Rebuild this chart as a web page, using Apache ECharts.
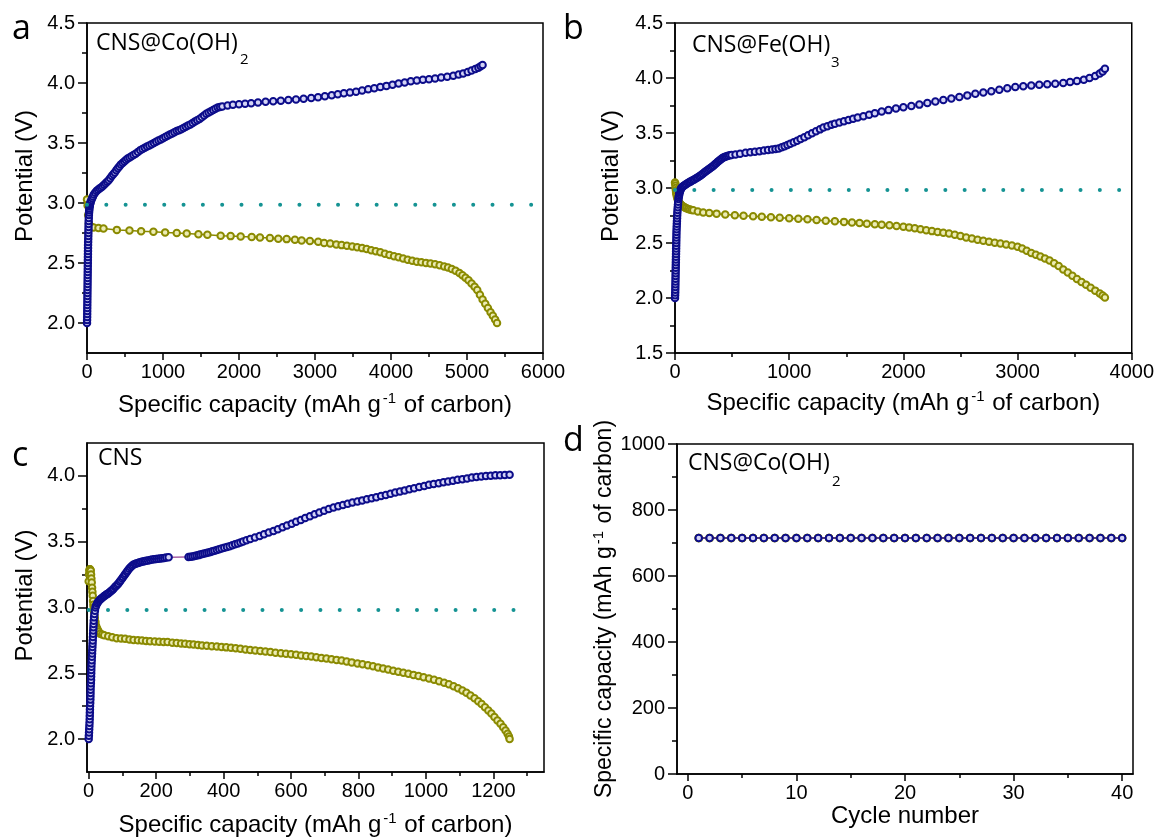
<!DOCTYPE html>
<html><head><meta charset="utf-8">
<script src="https://cdn.jsdelivr.net/npm/echarts@6/dist/echarts.min.js"></script>
<style>html,body{margin:0;padding:0;background:#fff}#c{width:1157px;height:839px}</style>
</head><body><div id="c"></div>
<script>
// ---------- DATA (capacity mAh/g, potential V) ----------
const aCharge = [[0,2.0],[1,2.025],[2,2.05],[2.5,2.075],[3,2.1],[3.5,2.125],[4,2.15],[4.5,2.175],[5,2.2],[5.5,2.225],[6,2.25],[6.5,2.275],[7,2.3],[7.5,2.325],[8,2.35],[8.5,2.375],[9,2.4],[9.5,2.425],[10,2.45],[10.5,2.475],[11,2.5],[11.5,2.525],[12,2.55],[12.5,2.575],[13,2.6],[13.5,2.625],[14,2.65],[15,2.675],[16,2.7],[17,2.725],[18,2.75],[19,2.775],[20,2.8],[21,2.825],[22,2.85],[23.5,2.875],[25,2.9],[27,2.92],[29,2.94],[31.5,2.955],[34,2.97],[37,2.98],[40,2.99],[44,3.0],[48,3.01],[57,3.025],[67,3.04],[78,3.055],[90,3.07],[107,3.085],[125,3.1],[145,3.11],[165,3.12],[185,3.13],[205,3.14],[225,3.152],[245,3.165],[265,3.178],[285,3.19],[305,3.207],[325,3.225],[345,3.24],[365,3.255],[385,3.272],[405,3.29],[425,3.305],[445,3.32],[468,3.333],[490,3.345],[512,3.358],[535,3.37],[560,3.38],[585,3.39],[612,3.4],[640,3.41],[670,3.425],[700,3.44],[730,3.45],[760,3.46],[790,3.47],[820,3.48],[850,3.49],[880,3.5],[910,3.51],[940,3.52],[970,3.53],[1000,3.54],[1030,3.55],[1060,3.56],[1090,3.57],[1120,3.58],[1150,3.59],[1180,3.6],[1210,3.607],[1240,3.615],[1270,3.625],[1300,3.635],[1330,3.645],[1360,3.655],[1390,3.667],[1420,3.68],[1450,3.69],[1480,3.7],[1510,3.715],[1540,3.73],[1570,3.743],[1600,3.755],[1630,3.765],[1660,3.775],[1690,3.785],[1720,3.795],[1750,3.8],[1780,3.805],[1850,3.812],[1920,3.818],[2000,3.822],[2080,3.827],[2160,3.832],[2250,3.838],[2350,3.843],[2450,3.848],[2550,3.853],[2650,3.858],[2750,3.863],[2850,3.869],[2950,3.875],[3040,3.882],[3130,3.89],[3220,3.898],[3300,3.906],[3380,3.914],[3460,3.921],[3540,3.928],[3620,3.937],[3700,3.947],[3780,3.956],[3860,3.966],[3940,3.976],[4020,3.986],[4100,3.996],[4180,4.005],[4260,4.014],[4340,4.021],[4420,4.027],[4500,4.032],[4580,4.038],[4660,4.045],[4740,4.052],[4820,4.06],[4890,4.07],[4950,4.08],[5010,4.092],[5060,4.104],[5110,4.116],[5150,4.128],[5180,4.139],[5205,4.15]];
const aDischarge = [[0,3.03],[8,2.98],[15,2.9],[25,2.83],[40,2.805],[60,2.8],[86,2.795],[151,2.792],[217,2.787],[393,2.776],[559,2.77],[712,2.764],[874,2.76],[1028,2.755],[1181,2.75],[1312,2.745],[1466,2.74],[1584,2.735],[1759,2.728],[1890,2.724],[2022,2.72],[2167,2.716],[2276,2.712],[2407,2.708],[2517,2.703],[2627,2.699],[2736,2.693],[2824,2.688],[2933,2.683],[3042,2.677],[3120,2.667],[3200,2.662],[3280,2.655],[3350,2.649],[3420,2.643],[3490,2.637],[3555,2.631],[3620,2.624],[3680,2.616],[3740,2.607],[3800,2.598],[3860,2.589],[3920,2.578],[3980,2.567],[4040,2.556],[4100,2.547],[4160,2.538],[4220,2.528],[4280,2.519],[4340,2.511],[4400,2.506],[4460,2.501],[4520,2.496],[4580,2.489],[4640,2.481],[4700,2.471],[4750,2.462],[4800,2.45],[4850,2.435],[4900,2.416],[4940,2.398],[4980,2.378],[5020,2.356],[5060,2.33],[5100,2.302],[5135,2.275],[5170,2.236],[5205,2.196],[5240,2.16],[5275,2.125],[5310,2.09],[5340,2.06],[5370,2.03],[5395,2.0]];
const aRef = [[0,2.985],[5850,2.985]];

const bCharge = [[0,2.0],[1,2.025],[2,2.05],[2.5,2.075],[3,2.1],[3.5,2.125],[4,2.15],[4.5,2.175],[5,2.2],[5.5,2.225],[6,2.25],[6.5,2.275],[7,2.3],[7.5,2.325],[8,2.35],[8.5,2.375],[9,2.4],[9.5,2.425],[10,2.45],[10.5,2.475],[11,2.5],[11.5,2.525],[12,2.55],[12.5,2.575],[13,2.6],[14,2.625],[15,2.65],[16,2.675],[17,2.7],[18,2.725],[19,2.75],[20.5,2.775],[22,2.8],[24,2.825],[26,2.85],[28,2.875],[30,2.9],[32.5,2.915],[35,2.93],[37.5,2.945],[40,2.96],[43.5,2.97],[47,2.98],[51,2.99],[55,3.0],[63,3.008],[71,3.015],[80,3.022],[90,3.03],[100,3.037],[112,3.045],[124,3.052],[135,3.058],[147,3.065],[160,3.072],[172,3.08],[185,3.088],[197,3.096],[210,3.105],[221,3.112],[232,3.12],[244,3.13],[256,3.14],[268,3.15],[280,3.16],[292,3.169],[304,3.178],[316,3.187],[328,3.195],[339,3.205],[350,3.215],[361,3.226],[372,3.237],[383,3.246],[394,3.255],[405,3.264],[416,3.272],[428,3.279],[440,3.284],[452,3.289],[465,3.293],[480,3.297],[495,3.3],[530,3.305],[570,3.312],[618,3.32],[660,3.325],[700,3.33],[740,3.335],[779,3.34],[815,3.345],[850,3.35],[880,3.355],[908,3.36],[935,3.37],[960,3.38],[985,3.39],[1010,3.402],[1040,3.415],[1070,3.43],[1100,3.445],[1133,3.462],[1166,3.48],[1200,3.497],[1235,3.515],[1270,3.533],[1300,3.55],[1335,3.562],[1370,3.575],[1400,3.585],[1440,3.595],[1480,3.607],[1520,3.618],[1560,3.63],[1600,3.64],[1650,3.652],[1700,3.665],[1750,3.68],[1810,3.695],[1870,3.708],[1935,3.722],[2000,3.735],[2070,3.746],[2140,3.758],[2210,3.772],[2280,3.786],[2350,3.8],[2420,3.814],[2490,3.828],[2560,3.842],[2630,3.856],[2700,3.868],[2770,3.88],[2840,3.893],[2910,3.906],[2980,3.918],[3050,3.926],[3120,3.932],[3190,3.938],[3260,3.943],[3330,3.948],[3400,3.955],[3460,3.963],[3520,3.973],[3580,3.985],[3630,4.0],[3680,4.018],[3720,4.04],[3745,4.06],[3765,4.085]];
const bDischarge = [[0,3.05],[2,3.04],[4,3.02],[6,3.0],[8,2.98],[10,2.96],[12,2.95],[15,2.93],[20,2.91],[25,2.895],[30,2.88],[36,2.87],[42,2.86],[50,2.85],[58,2.843],[69,2.835],[80,2.828],[90,2.821],[100,2.815],[115,2.81],[130,2.805],[145,2.8],[160,2.797],[200,2.787],[247,2.777],[300,2.772],[364,2.767],[440,2.76],[524,2.752],[600,2.747],[684,2.743],[760,2.739],[840,2.735],[917,2.73],[1000,2.726],[1080,2.72],[1160,2.715],[1240,2.709],[1320,2.703],[1400,2.697],[1480,2.692],[1550,2.687],[1616,2.682],[1680,2.676],[1750,2.671],[1810,2.666],[1878,2.661],[1940,2.655],[2000,2.648],[2050,2.642],[2100,2.634],[2150,2.625],[2200,2.616],[2250,2.608],[2300,2.6],[2350,2.594],[2400,2.586],[2450,2.575],[2500,2.563],[2550,2.551],[2600,2.541],[2650,2.53],[2700,2.52],[2750,2.511],[2800,2.502],[2850,2.495],[2900,2.487],[2950,2.478],[3000,2.466],[3040,2.449],[3080,2.43],[3120,2.41],[3160,2.393],[3200,2.377],[3240,2.36],[3280,2.34],[3320,2.316],[3360,2.29],[3400,2.26],[3440,2.232],[3480,2.203],[3520,2.173],[3560,2.146],[3600,2.12],[3640,2.094],[3680,2.067],[3720,2.04],[3745,2.022],[3765,2.005]];
const bRef = [[0,2.982],[3890,2.982]];

const cCharge = [[0,2.0],[0.5,2.025],[1,2.05],[1.5,2.075],[2,2.1],[2.5,2.125],[3,2.15],[3.2,2.175],[3.5,2.2],[3.7,2.225],[4,2.25],[4.5,2.275],[5,2.3],[5.2,2.325],[5.5,2.35],[5.7,2.375],[6,2.4],[6.5,2.425],[7,2.45],[7.2,2.475],[7.5,2.5],[7.7,2.525],[8,2.55],[8.5,2.575],[9,2.6],[9.5,2.625],[10,2.65],[10.5,2.675],[11,2.7],[11.5,2.725],[12,2.75],[12.5,2.775],[13,2.8],[13.5,2.825],[14,2.85],[14.5,2.875],[15,2.9],[16,2.925],[17,2.95],[18.5,2.975],[20,3.0],[22,3.015],[25,3.03],[27,3.04],[30,3.05],[33,3.058],[36,3.065],[39,3.072],[43,3.08],[46,3.087],[50,3.093],[53,3.1],[57,3.105],[60,3.112],[64,3.12],[67,3.127],[71,3.135],[74,3.145],[78,3.155],[81,3.163],[85,3.172],[88,3.183],[92,3.195],[95,3.207],[99,3.22],[102,3.232],[106,3.245],[109,3.257],[113,3.27],[116,3.282],[120,3.295],[124,3.306],[128,3.316],[132,3.324],[137,3.33],[141,3.334],[146,3.338],[150,3.342],[155,3.345],[160,3.349],[165,3.352],[170,3.355],[176,3.358],[182,3.361],[188,3.364],[194,3.366],[200,3.368],[206,3.371],[212,3.373],[218,3.375],[224,3.377],[230,3.38],[237,3.382],[296,3.384],[302,3.386],[308,3.388],[314,3.391],[320,3.395],[326,3.398],[331,3.402],[337,3.406],[343,3.41],[349,3.414],[355,3.418],[361,3.422],[367,3.427],[373,3.432],[380,3.437],[387,3.442],[394,3.448],[402,3.454],[410,3.46],[418,3.466],[426,3.473],[434,3.48],[442,3.487],[450,3.494],[458,3.502],[468,3.511],[479,3.52],[493,3.532],[507,3.544],[520,3.556],[534,3.569],[548,3.582],[561,3.595],[575,3.609],[588,3.623],[602,3.637],[615,3.651],[629,3.665],[642,3.68],[656,3.694],[670,3.708],[684,3.722],[698,3.735],[712,3.748],[726,3.759],[740,3.77],[754,3.779],[768,3.789],[782,3.798],[797,3.806],[811,3.814],[825,3.822],[839,3.83],[853,3.838],[867,3.847],[881,3.855],[895,3.864],[909,3.873],[923,3.881],[937,3.89],[951,3.898],[965,3.907],[980,3.916],[995,3.924],[1009,3.932],[1023,3.938],[1038,3.945],[1052,3.952],[1066,3.958],[1080,3.964],[1094,3.97],[1108,3.975],[1122,3.981],[1136,3.987],[1150,3.992],[1164,3.996],[1178,3.999],[1192,4.002],[1206,4.004],[1220,4.005],[1234,4.007],[1248,4.008]];
const cDischarge = [[0,3.2],[1,3.25],[2,3.28],[3,3.29],[4,3.29],[5,3.285],[6,3.28],[7,3.25],[8,3.22],[9,3.19],[10,3.15],[11,3.12],[12,3.09],[13,3.05],[14,3.02],[15,3.0],[16,2.97],[17,2.94],[18,2.92],[20,2.89],[22,2.86],[24,2.845],[27,2.83],[30,2.815],[34,2.8],[40,2.795],[46,2.79],[58,2.782],[70,2.774],[83,2.767],[96,2.764],[108,2.762],[121,2.757],[133,2.753],[146,2.751],[158,2.749],[170,2.746],[182,2.744],[196,2.741],[209,2.739],[222,2.738],[234,2.737],[248,2.733],[261,2.73],[274,2.727],[286,2.725],[299,2.72],[311,2.718],[324,2.715],[336,2.712],[350,2.709],[365,2.706],[380,2.703],[394,2.7],[408,2.697],[422,2.694],[436,2.69],[450,2.686],[465,2.681],[479,2.677],[494,2.673],[509,2.669],[524,2.665],[539,2.661],[554,2.656],[570,2.652],[585,2.649],[600,2.645],[615,2.641],[630,2.636],[645,2.632],[660,2.627],[675,2.622],[690,2.617],[705,2.612],[720,2.607],[735,2.602],[750,2.597],[765,2.59],[780,2.583],[797,2.574],[812,2.568],[828,2.561],[843,2.553],[858,2.545],[873,2.537],[888,2.529],[903,2.52],[918,2.512],[933,2.505],[948,2.496],[963,2.488],[978,2.479],[993,2.47],[1009,2.46],[1024,2.451],[1039,2.44],[1054,2.429],[1068,2.417],[1082,2.402],[1095,2.386],[1108,2.37],[1120,2.352],[1132,2.332],[1144,2.31],[1155,2.288],[1165,2.266],[1175,2.242],[1185,2.218],[1194,2.194],[1203,2.168],[1212,2.142],[1221,2.116],[1229,2.09],[1236,2.065],[1242,2.04],[1246,2.02],[1248,2.0]];
const cRef = [[0,2.981],[1312,2.981]];

const dCycles = [1,2,3,4,5,6,7,8,9,10,11,12,13,14,15,16,17,18,19,20,21,22,23,24,25,26,27,28,29,30,31,32,33,34,35,36,37,38,39,40];
const dCharge = [715,715,715,715,715,715,715,715,715,715,715,715,715,715,715,715,715,715,715,715,715,715,715,715,715,715,715,715,715,715,715,715,715,715,715,715,715,715,715,715];
const dDischarge = [715,715,715,715,715,715,715,715,715,715,715,715,715,715,715,715,715,715,715,715,715,715,715,715,715,715,715,715,715,715,715,715,715,715,715,715,715,715,715,715];

// tick values
const aXMajor = [0,1000,2000,3000,4000,5000,6000], aXMinor = [500,1500,2500,3500,4500,5500];
const aYMajor = [2.0,2.5,3.0,3.5,4.0,4.5], aYMinor = [2.25,2.75,3.25,3.75,4.25];
const bXMajor = [0,1000,2000,3000,4000], bXMinor = [500,1500,2500,3500];
const bYMajor = [1.5,2.0,2.5,3.0,3.5,4.0,4.5], bYMinor = [1.75,2.25,2.75,3.25,3.75,4.25];
const cXMajor = [0,200,400,600,800,1000,1200], cXMinor = [100,300,500,700,900,1100,1300];
const cYMajor = [2.0,2.5,3.0,3.5,4.0], cYMinor = [2.25,2.75,3.25,3.75];
const dXMajor = [0,10,20,30,40], dXMinor = [5,15,25,35];
const dYMajor = [0,200,400,600,800,1000], dYMinor = [100,300,500,700,900];

// ---------- STYLE ----------
const NAVY = '#0c0c8a', OLIVE = '#8a8a00', TEAL = '#159393';
const SANS = '"Liberation Sans", Arial, sans-serif';
const CAL = '"Open Sans", "Noto Sans", sans-serif';
const capName = '{t|Specific capacity (mAh g}{s|-1}{t| of carbon)}';
function nameRich(sz){ return {t:{fontSize:sz,fontFamily:SANS,color:'#000'}, s:{fontSize:15,fontFamily:SANS,color:'#000',padding:[0,1,13,2]}}; }

function mainAxis(dim, grid, min, max, majors, fmt, name, gap, pad, sz){
  const isX = dim === 'x';
  sz = sz || 24;
  return {
    type:'value', gridIndex:grid, min:min, max:max, position: isX ? 'bottom' : 'left',
    axisLine:{show:true,onZero:false,lineStyle:{color:'#000',width:1.5}},
    axisTick:{show:true,inside:false,length:isX?7:9,lineStyle:{color:'#000',width:1.5},customValues:majors},
    axisLabel:{customValues:majors,formatter:fmt,fontSize:20,fontFamily:SANS,color:'#000',margin:isX?9:12},
    splitLine:{show:false}, minorTick:{show:false},
    name:name, nameLocation:'middle', nameGap:gap,
    nameTextStyle:{fontSize:sz,fontFamily:SANS,color:'#000',rich:nameRich(sz),padding:pad||0}
  };
}
function minorAxis(dim, grid, min, max, minors){
  const isX = dim === 'x';
  return {
    type:'value', gridIndex:grid, min:min, max:max, position: isX ? 'bottom' : 'left',
    axisLine:{show:false,onZero:false},
    axisTick:{show:true,inside:false,length:isX?4:5,lineStyle:{color:'#000',width:1.5},customValues:minors},
    axisLabel:{show:false}, splitLine:{show:false}
  };
}
const f1 = v => v.toFixed(1);
const f0 = v => String(Math.round(v));

function curve(data, xi, yi, kind){
  const nav = kind === 'charge';
  return {
    type:'line', xAxisIndex:xi, yAxisIndex:yi, data:data, clip:false,
    symbol:'circle', symbolSize:6.5, showSymbol:true, z: nav?4:3,
    itemStyle:{color: nav ? '#d4d4f6' : '#ececb4', borderColor: nav ? NAVY : OLIVE, borderWidth:2},
    lineStyle:{color: nav ? '#7a127a' : OLIVE, width: nav ? 1 : 1.5},
    emphasis:{disabled:true}
  };
}
function refLine(data, xi, yi){
  return {type:'line', xAxisIndex:xi, yAxisIndex:yi, data:data, symbol:'none', clip:false, z:6,
    lineStyle:{color:TEAL,width:4,type:[0.01,19.3],cap:'round'}, emphasis:{disabled:true}};
}

const grids = [
  {left:87, top:23, width:456, height:330},
  {left:675, top:23, width:458, height:330},
  {left:87, top:443, width:457, height:329},
  {left:677, top:444, width:456, height:330}
].map(g => Object.assign(g, {show:true, borderColor:'#000', borderWidth:1.5, backgroundColor:'transparent'}));

const xAxes = [
  mainAxis('x',0,0,6000,aXMajor,f0,capName,38),
  mainAxis('x',1,0,4000,bXMajor,f0,capName,36),
  mainAxis('x',2,-5,1350,cXMajor,f0,capName,39),
  mainAxis('x',3,-1,41,dXMajor,f0,'Cycle number',30),
  minorAxis('x',0,0,6000,aXMinor),
  minorAxis('x',1,0,4000,bXMinor),
  minorAxis('x',2,-5,1350,cXMinor),
  minorAxis('x',3,-1,41,dXMinor)
];
const yAxes = [
  mainAxis('y',0,1.75,4.5,aYMajor,f1,'Potential (V)',50,[0,0,0,24]),
  mainAxis('y',1,1.5,4.5,bYMajor,f1,'Potential (V)',52,[0,0,0,24]),
  mainAxis('y',2,1.75,4.25,cYMajor,f1,'Potential (V)',50,[0,0,0,24]),
  mainAxis('y',3,0,1000,dYMajor,f0,capName,57,0,23),
  minorAxis('y',0,1.75,4.5,aYMinor),
  minorAxis('y',1,1.5,4.5,bYMinor),
  minorAxis('y',2,1.75,4.25,cYMinor),
  minorAxis('y',3,0,1000,dYMinor)
];

const dChargePts = dCycles.map((c,i) => [c, dCharge[i]]);
const dDischargePts = dCycles.map((c,i) => [c, dDischarge[i]]);

const series = [
  curve(aDischarge,0,0,'discharge'), curve(aCharge,0,0,'charge'), refLine(aRef,0,0),
  curve(bDischarge,1,1,'discharge'), curve(bCharge,1,1,'charge'), refLine(bRef,1,1),
  curve(cDischarge,2,2,'discharge'), curve(cCharge,2,2,'charge'), refLine(cRef,2,2),
  {type:'line', xAxisIndex:3, yAxisIndex:3, data:dDischargePts, symbol:'circle', symbolSize:8, z:3,
   itemStyle:{color:OLIVE,borderColor:OLIVE,borderWidth:1}, lineStyle:{color:OLIVE,width:1.5}, emphasis:{disabled:true}},
  {type:'line', xAxisIndex:3, yAxisIndex:3, data:dChargePts, symbol:'circle', symbolSize:6.5, z:4,
   itemStyle:{color:'#d4d4f6',borderColor:NAVY,borderWidth:2}, lineStyle:{color:'#3a1a8a',width:1.5}, emphasis:{disabled:true}}
];

function txt(x, y, s, size, fam){
  return {type:'text', x:x, y:y, z:100, style:{text:s, fontSize:size, fontFamily:fam, fill:'#000',
    textAlign:'left', textVerticalAlign:'bottom', align:'left', verticalAlign:'bottom'}};
}
const graphics = [
  txt(12, 46, 'a', 34, CAL), txt(563, 46, 'b', 34, CAL), txt(12, 473, 'c', 34, CAL), txt(563, 458, 'd', 34, CAL),
  txt(96, 55, 'CNS@Co(OH)', 23, CAL), txt(240, 67, '2', 15, CAL),
  txt(692, 57, 'CNS@Fe(OH)', 23, CAL), txt(831, 70, '3', 15, CAL),
  txt(98, 470, 'CNS', 23, CAL),
  txt(688, 475, 'CNS@Co(OH)', 23, CAL), txt(832, 489, '2', 15, CAL)
];

const chart = echarts.init(document.getElementById('c'), null, {renderer:'canvas'});
chart.setOption({
  backgroundColor:'#fff', animation:false,
  grid: grids, xAxis: xAxes, yAxis: yAxes, series: series, graphic: graphics
});
</script></body></html>
